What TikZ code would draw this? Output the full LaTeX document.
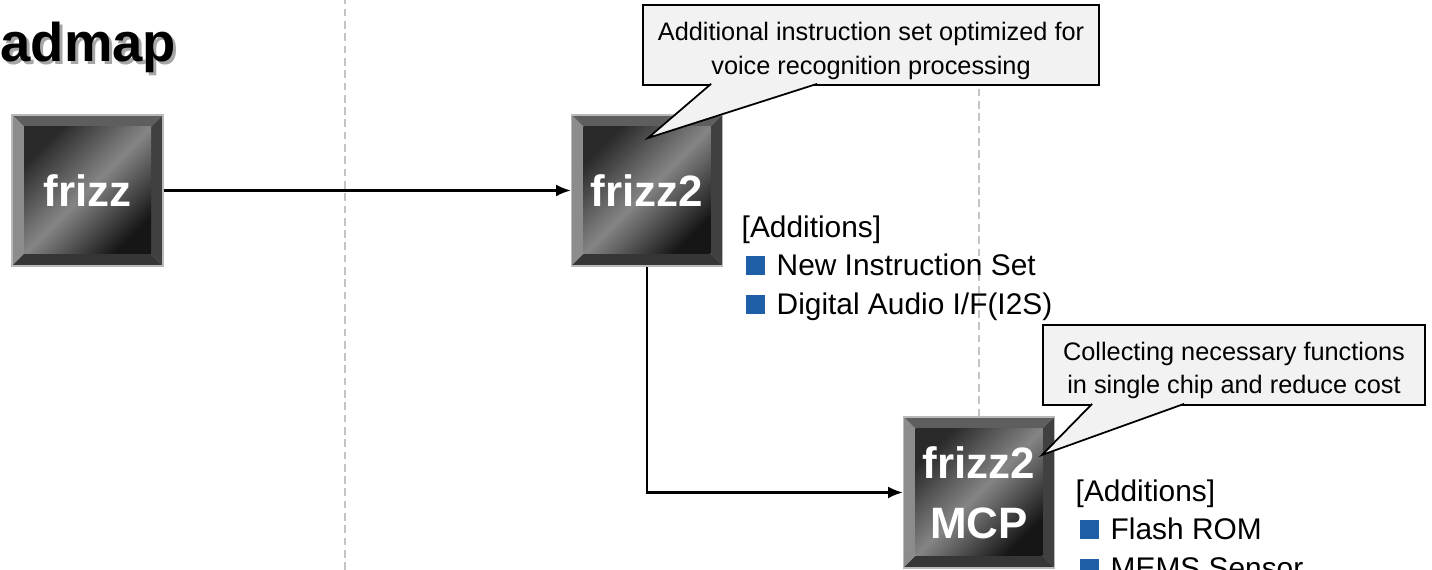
\documentclass[tikz,border=0pt]{standalone}
\usepackage{fontspec}
\setmainfont{Liberation Sans}
\usetikzlibrary{arrows.meta,calc}
\definecolor{notefill}{HTML}{F2F2F2}
\definecolor{addblue}{HTML}{1F5FA8}
\definecolor{guidegray}{HTML}{C4C4C4}
\definecolor{bevtop}{HTML}{5E5E5E}
\definecolor{bevleft}{HTML}{8C8C8C}
\definecolor{bevright}{HTML}{404040}
\definecolor{bevbottom}{HTML}{363636}
\definecolor{facedark}{HTML}{2A2A2A}
\definecolor{faceend}{HTML}{161616}
\definecolor{facelight}{HTML}{858585}
\newcommand{\sqb}{\hspace{0.04cm}\textcolor{addblue}{\rule[0.05ex]{0.19cm}{0.19cm}}\hspace{0.12cm}}
\tikzset{
  chip/.style={minimum width=1.51cm, minimum height=1.51cm, inner sep=0pt,
    align=center, text=white, font=\fontsize{12.5}{17}\selectfont\bfseries,
    draw=gray!55, line width=0.4pt,
    path picture={
      \def\bw{0.12}
      \coordinate (pSW) at (path picture bounding box.south west);
      \coordinate (pNE) at (path picture bounding box.north east);
      \coordinate (pNW) at (path picture bounding box.north west);
      \coordinate (pSE) at (path picture bounding box.south east);
      \fill[bevtop] (pNW) -- (pNE) -- ($(pNE)+(-\bw,-\bw)$) -- ($(pNW)+(\bw,-\bw)$) -- cycle;
      \fill[bevleft] (pNW) -- (pSW) -- ($(pSW)+(\bw,\bw)$) -- ($(pNW)+(\bw,-\bw)$) -- cycle;
      \fill[bevright] (pNE) -- (pSE) -- ($(pSE)+(-\bw,\bw)$) -- ($(pNE)+(-\bw,-\bw)$) -- cycle;
      \fill[bevbottom] (pSW) -- (pSE) -- ($(pSE)+(-\bw,\bw)$) -- ($(pSW)+(\bw,\bw)$) -- cycle;
      \shade[top color=facedark, bottom color=faceend,
        middle color=facelight, shading angle=45]
        ($(pSW)+(\bw,\bw)$) rectangle ($(pNE)+(-\bw,-\bw)$);
    }},
  note/.style={draw, fill=notefill, line width=0.5pt, minimum height=0.8cm, inner sep=0pt},
  notetext/.style={align=center, inner sep=0pt, font=\fontsize{7.2}{9.4}\selectfont},
  addlist/.style={align=left, inner sep=0pt, anchor=north west,
    font=\fontsize{8.5}{11}\selectfont},
  guide/.style={guidegray, line width=0.6pt, dash pattern=on 2.2pt off 1.3pt},
  conn/.style={-{Latex[length=4.2pt,width=3.4pt]}, line width=0.6pt},
}
\begin{document}
\begin{tikzpicture}
  \useasboundingbox (0,0) rectangle (14.32,5.70);
  \clip (0,0) rectangle (14.32,5.70);
  % title
  \node[font=\fontsize{15.5}{18}\selectfont\bfseries, text=black!35, anchor=base west, inner sep=0pt]
    (titleshadow) at (0.03,5.055) {admap};
  \node[font=\fontsize{15.5}{18}\selectfont\bfseries, anchor=base west, inner sep=0pt]
    (title) at (0,5.08) {admap};

  % chips
  \node[chip] (frizz) at (0.875,3.795) {frizz};
  \node[chip] (frizz2) at (6.47,3.795) {frizz2};
  \node[chip] (mcp) at (9.79,0.775) {frizz2\\MCP};

  % callouts
  \node[note, minimum width=4.56cm] (note1) at (8.71,5.25) {};
  \node[note, minimum width=3.82cm] (note2) at (12.34,2.05) {};

  % guides
  \draw[guide] (3.45,0) -- (3.45,5.70);
  \draw[guide] (mcp.north) -- (mcp.north |- note1.south);

  % connectors
  \draw[conn] (frizz) -- (frizz2);
  \draw[conn] (frizz2) |- (mcp);

  % callout pointers
  \coordinate (tip1) at (6.48,4.32);
  \coordinate (tip2) at (10.42,1.15);
  \filldraw[fill=notefill, draw=black, line width=0.5pt]
    ($(note1.south west)+(0.69,0.02)$) -- (tip1) -- ($(note1.south west)+(1.75,0.02)$);
  \filldraw[fill=notefill, draw=black, line width=0.5pt]
    ($(note2.south west)+(0.50,0.02)$) -- (tip2) -- ($(note2.south west)+(1.42,0.02)$);
  \node[notetext] (note1text) at ($(note1.center)+(0,-0.06)$)
    {Additional instruction set optimized for\\voice recognition processing};
  \node[notetext] (note2text) at ($(note2.center)+(0,-0.05)$)
    {Collecting necessary functions\\in single chip and reduce cost};

  % additions
  \node[addlist] (add1) at (7.41,3.55)
    {[Additions]\\\sqb New Instruction Set\\\sqb Digital Audio I/F(I2S)};
  \node[addlist] (add2) at (10.75,0.91)
    {[Additions]\\\sqb Flash ROM\\\sqb MEMS Sensor};
\end{tikzpicture}
\end{document}
